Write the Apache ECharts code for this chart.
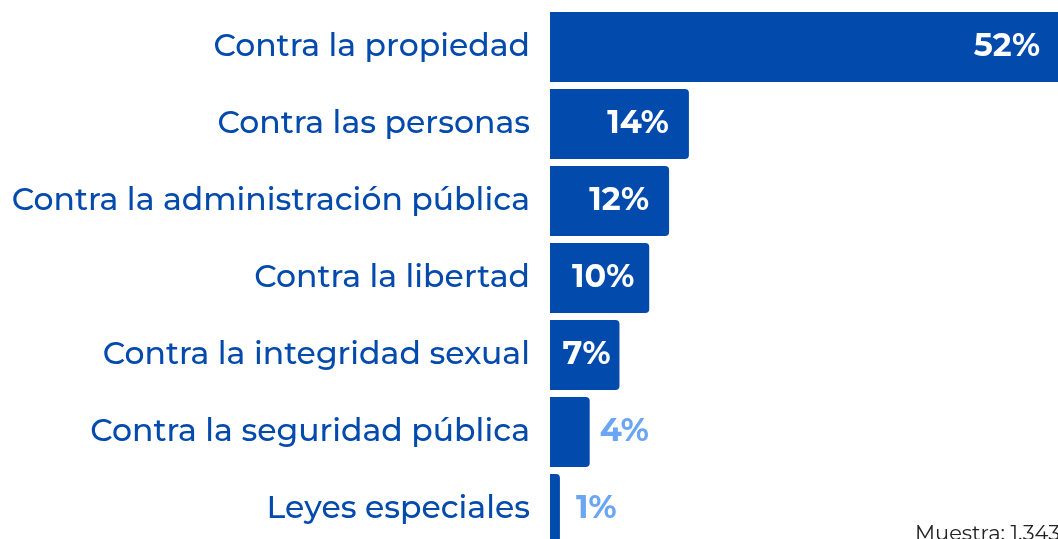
<!DOCTYPE html>
<html>
<head>
<meta charset="utf-8">
<script src="https://cdn.jsdelivr.net/npm/echarts@6/dist/echarts.min.js"></script>
<style>
  html, body { margin: 0; padding: 0; background: #fff; }
  #chart { width: 1058px; height: 539px; }
</style>
</head>
<body>
<div id="chart"></div>
<script>
// categorías de delito y porcentajes
var categorias = [
  'Contra la propiedad',
  'Contra las personas',
  'Contra la administración pública',
  'Contra la libertad',
  'Contra la integridad sexual',
  'Contra la seguridad pública',
  'Leyes especiales'
];
var porcentajes = [52, 14, 12, 10, 7, 4, 1];
var muestra = 'Muestra: 1.343';

var azul = '#034AAD';
var azulClaro = '#6AA6F3';
var fuente = 'Montserrat, "Open Sans", sans-serif';

// separación de la etiqueta respecto al final de cada barra
var separacion = [26, 20, 20, 15, 9, 10, 16];

var chart = echarts.init(document.getElementById('chart'));

var datos = porcentajes.map(function (v, i) {
  var fuera = v < 5;
  return {
    value: v,
    label: fuera
      ? { position: 'right', distance: separacion[i], color: azulClaro }
      : { position: 'insideRight', distance: separacion[i], color: '#fff' }
  };
});

chart.setOption({
  animation: false,
  grid: { left: 550, top: 8.5, width: 516, height: 539, outerBoundsMode: 'none' },
  xAxis: {
    type: 'value', min: 0, max: 52,
    show: false
  },
  yAxis: {
    type: 'category',
    data: categorias,
    inverse: true,
    axisLine: { show: false },
    axisTick: { show: false },
    axisLabel: {
      margin: 20,
      color: azul,
      fontSize: 31.5,
      fontFamily: fuente,
      fontWeight: 500,
      padding: [0, 0, 8, 0]
    }
  },
  series: [{
    type: 'bar',
    data: datos,
    barWidth: 70,
    itemStyle: { color: azul, borderRadius: [0, 4, 4, 0] },
    label: {
      show: true,
      formatter: '{c}%',
      fontSize: 32,
      fontWeight: 700,
      fontFamily: fuente
    }
  }],
  graphic: [{
    type: 'text',
    left: 915,
    top: 523,
    style: { text: muestra, fontSize: 21, fill: '#222', fontFamily: fuente }
  }]
});
</script>
</body>
</html>
